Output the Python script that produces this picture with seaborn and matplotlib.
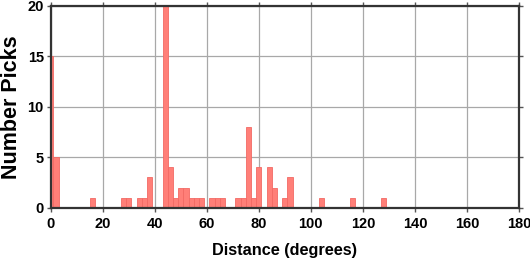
import matplotlib
matplotlib.use("Agg")
import matplotlib.pyplot as plt
import seaborn as sns
import numpy as np
import pandas as pd

# Histogram bin centers (degrees) and pick counts (bins 2 degrees wide)
distance = [0, 2, 16, 28, 30, 34, 36, 38, 44, 46, 48, 50, 52, 54, 56, 58,
            62, 64, 66, 72, 74, 76, 78, 80, 84, 86, 90, 92, 104, 116, 128]
picks = [15, 5, 1, 1, 1, 1, 1, 3, 20, 4, 1, 2, 2, 1, 1, 1,
         1, 1, 1, 1, 1, 8, 1, 4, 4, 2, 1, 3, 1, 1, 1]
x_ticks = [0, 20, 40, 60, 80, 100, 120, 140, 160, 180]
y_ticks = [0, 5, 10, 15, 20]

df = pd.DataFrame({"distance": distance, "picks": picks})

sns.set_style("white")
plt.rcParams["font.family"] = ["Liberation Sans", "DejaVu Sans"]
plt.rcParams["font.weight"] = "bold"
plt.rcParams["text.color"] = "black"

fig = plt.figure(figsize=(5.30, 2.58), dpi=100)
ax = fig.add_axes([50.7 / 530, 1 - 207.7 / 258, (519 - 50.7) / 530, (207.7 - 5.7) / 258])

sns.histplot(data=df, x="distance", weights="picks", binwidth=2,
             binrange=(-1, 181), ax=ax, color="#ff7f78", alpha=1.0,
             edgecolor="#f26a64", linewidth=0.6, zorder=3)

ax.set_xlim(0, 180)
ax.set_ylim(0, 20)
ax.set_xticks(x_ticks)
ax.set_yticks(y_ticks)
ax.grid(True, color="#a8a8a8", linewidth=0.9, zorder=0)
ax.set_axisbelow(True)

for s in ax.spines.values():
    s.set_color("#333333")
    s.set_linewidth(1.6)
    s.set_zorder(5)

ax.tick_params(axis="both", which="both", direction="out", length=3, width=1.0,
               color="#555555", labelcolor="black", labelsize=10.5,
               top=True, right=True, bottom=True, left=True,
               labeltop=False, labelright=False)
ax.tick_params(axis="x", pad=4)
ax.tick_params(axis="y", pad=2)
for lab in ax.get_xticklabels() + ax.get_yticklabels():
    lab.set_fontweight("bold")

ax.set_xlabel("Distance (degrees)", fontsize=11.7, fontweight="bold",
              color="black", labelpad=8)
ax.set_ylabel("Number Picks", fontsize=15.5, fontweight="bold",
              color="black")
ax.yaxis.set_label_coords(-0.061, 0.5)

fig.savefig("out.png", dpi=100)
